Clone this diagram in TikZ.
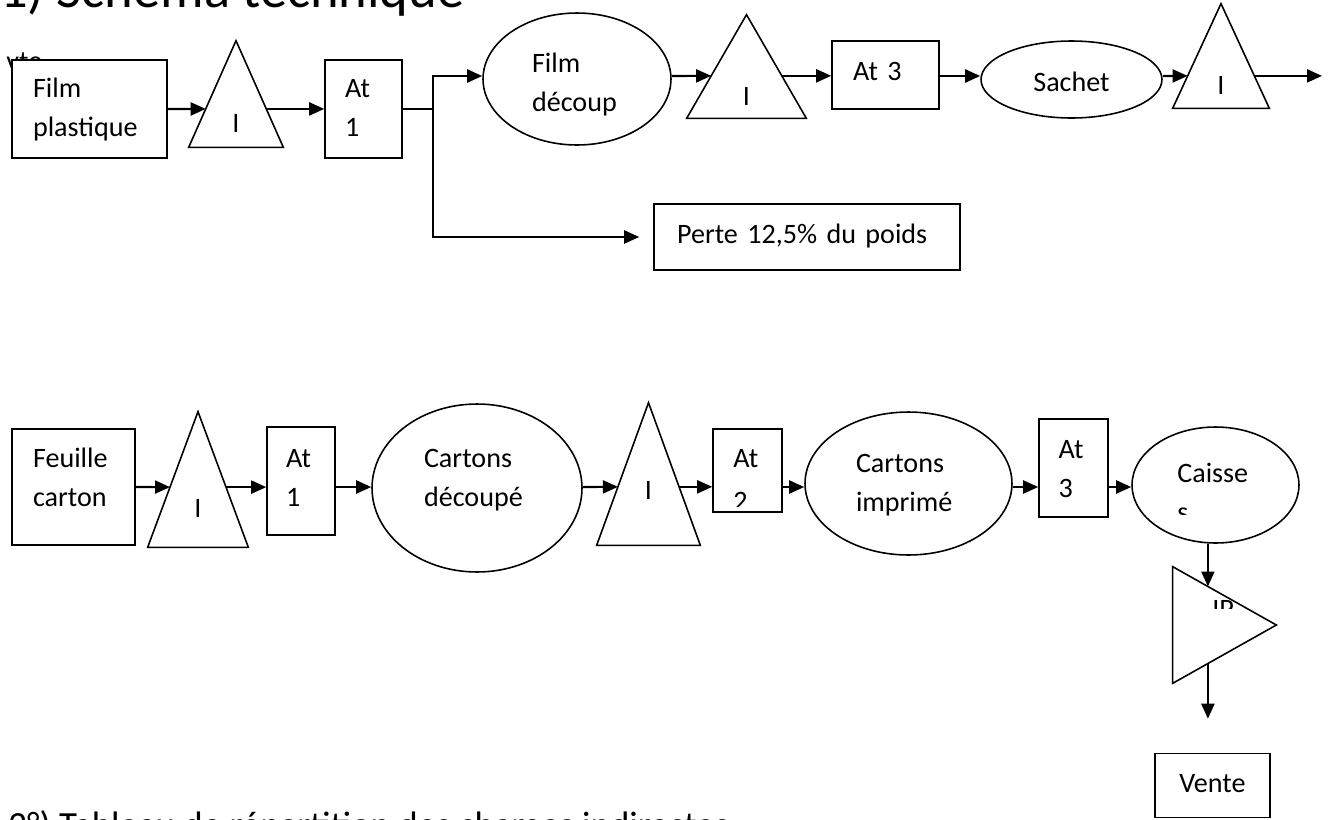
\documentclass[tikz,border=0pt]{standalone}
\usepackage{fontspec}
\setmainfont{Carlito}
\usetikzlibrary{positioning,calc,shapes.geometric,arrows.meta}

\begin{document}
\begin{tikzpicture}[x=0.02cm, y=-0.02cm,
  font=\fontsize{16}{22.5}\selectfont,
  forme/.style={line width=0.9pt},
  boite/.style={draw, forme, fill=white, inner sep=0pt, align=left},
  bulle/.style={ellipse, draw, forme, inner sep=0pt, align=left},
  triang/.style={inner sep=0pt, align=center, text depth=0pt},
  fleche/.style={line width=1.2pt, -{Triangle[length=0.3cm,width=0.26cm]}},
  titre/.style={anchor=base west, inner sep=0pt}
]
  \useasboundingbox (0,0) rectangle (1330,819);
  \clip (0,0) rectangle (1330,819);

  % headings, cut by the page
  \node[titre, font=\fontsize{31}{36}\selectfont] (titre1) at (0,7) {1) Schéma technique};
  \node[titre, font=\fontsize{21}{25}\selectfont] (titre2) at (8,837)
    {2°) Tableau de répartition des charges indirectes};

  % film plastique line
  \node[titre] (vte) at (6,70) {vte};
  \node[boite, minimum width=3.1cm, minimum height=1.96cm, text width=2.26cm,
    text height=0.52cm, text depth=1cm] (fp) at (89.5,109) {Film\\plastique};
  \node[triang, minimum width=1.88cm, minimum height=2.12cm, text height=1.56cm] (t1) at (236,94) {I};
  \node[boite, minimum width=1.54cm, minimum height=1.96cm, text width=0.74cm,
    text height=0.52cm, text depth=1cm] (at1) at (363.5,109) {At\\1};
  \node[bulle, minimum width=3.76cm, minimum height=2.64cm, text width=1.8cm,
    text height=0.72cm, text depth=1cm] (fd) at (577,79) {Film\\découp};
  \node[triang, minimum width=2.38cm, minimum height=2.06cm, text height=1.56cm] (t2) at (746.5,66.5) {I};
  \node[boite, minimum width=2.14cm, minimum height=1.36cm, text width=1.3cm,
    text height=0.4cm, text depth=0.2cm] (at3t) at (885.5,75) {At 3};
  \node[bulle, align=center, minimum width=3.62cm, minimum height=1.54cm,
    text height=0.66cm, text depth=0.2cm] (sachet) at (1071.5,79.5) {Sachet};
  \node[triang, minimum width=1.92cm, minimum height=2.08cm, text height=1.56cm] (t3) at (1221,56) {I};
  \node[boite, minimum width=6.12cm, minimum height=1.32cm, text width=5.2cm,
    text height=0.44cm, text depth=0.2cm] (perte) at (807,237) {Perte 12,5\% du poids};

  % carton line
  \node[boite, minimum width=2.46cm, minimum height=2.32cm, text width=1.62cm,
    text height=0.2cm, text depth=1cm] (fc) at (73.5,487) {Feuille\\carton};
  \node[triang, minimum width=2cm, minimum height=2.7cm, text height=1.5cm] (bt1) at (198,479.5) {I};
  \node[boite, minimum width=1.36cm, minimum height=2.16cm, text width=0.6cm,
    text height=0.44cm, text depth=1cm] (ba1) at (301,481) {At\\1};
  \node[bulle, minimum width=4.2cm, minimum height=3.36cm, text width=2.12cm,
    text height=0.16cm, text depth=1cm] (cd) at (477,488) {Cartons\\découpé};
  \node[triang, minimum width=2.06cm, minimum height=2.84cm, text height=1cm] (bt2) at (648.5,474) {I};
  \node[boite, minimum width=1.38cm, minimum height=1.66cm] (ba2) at (747.5,470.5) {};
  \node[bulle, minimum width=4.14cm, minimum height=2.86cm, text width=2.1cm,
    text height=0.54cm, text depth=1cm] (ci) at (908.5,483.5) {Cartons\\imprimé};
  \node[boite, minimum width=1.38cm, minimum height=1.96cm, text width=0.6cm,
    text height=0.6cm, text depth=1cm] (ba3) at (1073.5,468) {At\\3};
  \node[bulle, minimum width=3.34cm, minimum height=2.32cm] (cs) at (1215.5,485) {};
  \node[triang, minimum width=2.06cm, minimum height=2.32cm] (ip) at (1224.5,625) {};
  \node[boite, align=center, minimum width=2.3cm, minimum height=1.28cm,
    text height=0.46cm, text depth=0.2cm] (vente) at (1212.5,785.5) {Vente};

  % texts cut by their frames
  \begin{scope}
    \clip (ba2.north west) rectangle ([yshift=0.12cm]ba2.south east);
    \node[titre, text width=0.6cm, align=left] (ba2t) at (733,467) {At\\[0.08cm]2};
  \end{scope}
  \begin{scope}
    \clip (1132,427) rectangle (1299,514);
    \node[titre, text width=1.6cm, align=left] (cst) at (1177,482) {Caisse\\s};
  \end{scope}
  \begin{scope}
    \clip (1173,597) rectangle (1276,608);
    \node[titre] (ipt) at (1212,618) {IP};
  \end{scope}

  % triangles
  \foreach \t in {t1,t2,t3,bt1,bt2}
    \draw[forme] (\t.south west) -- (\t.north) -- (\t.south east) -- cycle;
  \draw[forme] (ip.north west) -- (ip.east) -- (ip.south west) -- cycle;

  % points on the sides
  \coordinate (t1l) at ($(t1.north)!0.64!(t1.south west)$);
  \coordinate (t1r) at ($(t1.north)!0.64!(t1.south east)$);
  \coordinate (t2l) at ($(t2.north)!0.59!(t2.south west)$);
  \coordinate (t2r) at ($(t2.north)!0.59!(t2.south east)$);
  \coordinate (t3l) at ($(t3.north)!0.69!(t3.south west)$);
  \coordinate (t3r) at ($(t3.north)!0.69!(t3.south east)$);
  \coordinate (bt1l) at ($(bt1.north)!0.556!(bt1.south west)$);
  \coordinate (bt1r) at ($(bt1.north)!0.556!(bt1.south east)$);
  \coordinate (bt2l) at ($(bt2.north)!0.59!(bt2.south west)$);
  \coordinate (bt2r) at ($(bt2.north)!0.59!(bt2.south east)$);
  \coordinate (iph) at ($(ip.north west)!0.34!(ip.east)$);
  \coordinate (ipb) at ($(ip.south west)!0.34!(ip.east)$);
  \coordinate (jn) at (433,109);
  \coordinate (haut) at (0,76);
  \coordinate (ligne) at (0,487);
  \coordinate (fin) at (1322,76);

  % connectors, top line
  \draw[fleche] (fp.east) -- (t1l);
  \draw[fleche] (t1r) -- (t1r -| at1.west);
  \draw[line width=1.2pt] (at1.east) -- (jn);
  \draw[fleche] (jn) |- (fd.west |- haut);
  \draw[fleche, shorten >=0.28cm] (jn) |- (perte.west);
  \draw[fleche] (fd.east |- haut) -- (t2l);
  \draw[fleche] (t2r) -- (t2r -| at3t.west);
  \draw[fleche] (at3t.east |- haut) -- (sachet.west |- haut);
  \draw[fleche] (sachet.east |- haut) -- (t3l);
  \draw[fleche] (t3r) -- (t3r -| fin);

  % connectors, bottom line
  \draw[fleche] (fc.east |- ligne) -- (bt1l);
  \draw[fleche] (bt1r) -- (bt1r -| ba1.west);
  \draw[fleche] (ba1.east |- ligne) -- (cd.west |- ligne);
  \draw[fleche] (cd.east |- ligne) -- (bt2l);
  \draw[fleche] (bt2r) -- (bt2r -| ba2.west);
  \draw[fleche] (ba2.east |- ligne) -- (ci.west |- ligne);
  \draw[fleche] (ci.east |- ligne) -- (ba3.west |- ligne);
  \draw[fleche] (ba3.east |- ligne) -- (cs.west |- ligne);
  \draw[fleche] (cs.south -| iph) -- (iph);
  \draw[fleche, shorten >=0.68cm] (ipb) -- (ipb |- vente.north);
\end{tikzpicture}
\end{document}
